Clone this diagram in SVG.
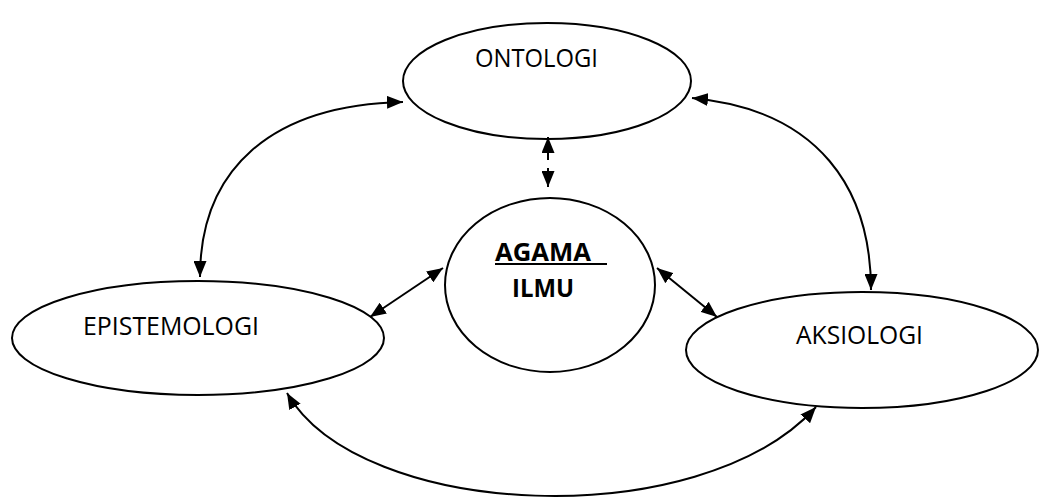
<svg xmlns="http://www.w3.org/2000/svg" width="1050" height="504" viewBox="0 0 1050 504">
  <style>
    .shape { fill: #ffffff; stroke: #000000; stroke-width: 2; }
    .label { font-family: "Open Sans", "Liberation Sans", sans-serif; font-size: 25px; fill: #000000; }
    .bold { font-weight: bold; }
    .conn { fill: none; stroke: #000000; stroke-width: 2; marker-start: url(#arrow); marker-end: url(#arrow); }
  </style>
  <defs>
    <marker id="arrow" viewBox="0 0 16 13" refX="16" refY="6.5" markerWidth="16" markerHeight="13" markerUnits="userSpaceOnUse" orient="auto-start-reverse">
      <path d="M0,0 L16,6.5 L0,13 z" fill="#000000"/>
    </marker>
  </defs>
  <rect width="1050" height="504" fill="#ffffff"/>

  <g id="ontologi">
    <ellipse class="shape" cx="547" cy="81" rx="144" ry="58"/>
    <text class="label" x="475" y="67" textLength="123" lengthAdjust="spacingAndGlyphs">ONTOLOGI</text>
  </g>

  <g id="agama-ilmu">
    <ellipse class="shape" cx="550" cy="285" rx="105" ry="87"/>
    <text class="label bold" x="495" y="261" textLength="96" lengthAdjust="spacingAndGlyphs">AGAMA</text>
    <line x1="495" y1="264" x2="607" y2="264" stroke="#000000" stroke-width="2"/>
    <text class="label bold" x="512" y="297" textLength="62" lengthAdjust="spacingAndGlyphs">ILMU</text>
  </g>

  <g id="epistemologi">
    <ellipse class="shape" cx="198" cy="338" rx="186" ry="57"/>
    <text class="label" x="83" y="335" textLength="176" lengthAdjust="spacingAndGlyphs">EPISTEMOLOGI</text>
  </g>

  <g id="aksiologi">
    <ellipse class="shape" cx="862" cy="350" rx="176" ry="58"/>
    <text class="label" x="796" y="344" textLength="127" lengthAdjust="spacingAndGlyphs">AKSIOLOGI</text>
  </g>

  <g id="connectors">
    <path class="conn" d="M403,102 C270,105 200,170 200,277"/>
    <path class="conn" d="M692,98 C820,110 871,190 871,290"/>
    <path class="conn" d="M548,137 L548,187" stroke-dasharray="23 8"/>
    <path class="conn" d="M370,317 L443,268"/>
    <path class="conn" d="M657,268 L717,317"/>
    <path class="conn" d="M287,393 C360,520 700,535 816,407"/>
  </g>
</svg>
